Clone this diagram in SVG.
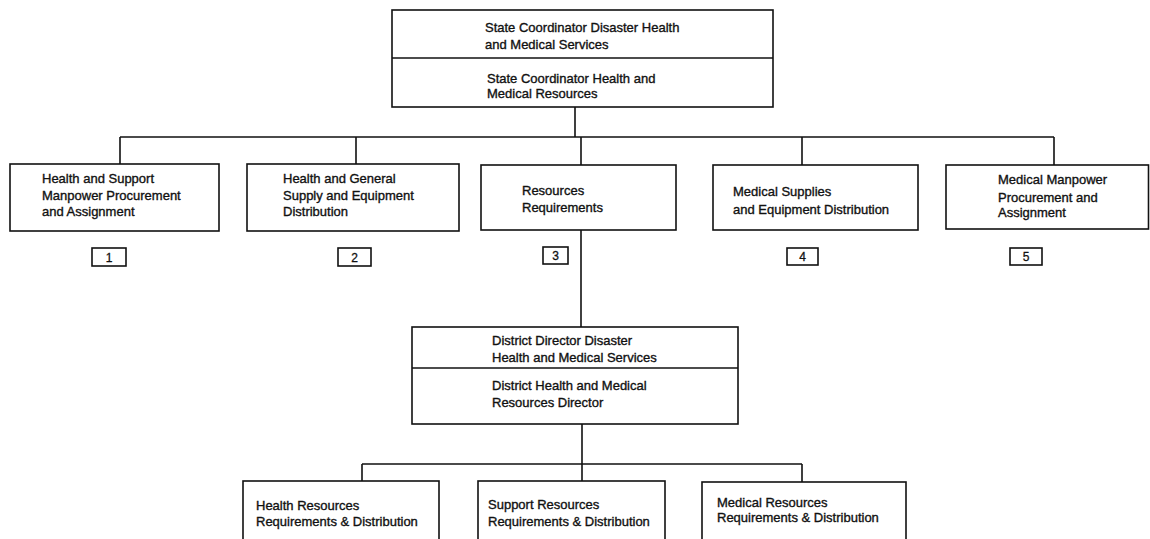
<svg xmlns="http://www.w3.org/2000/svg" width="1150" height="539" viewBox="0 0 1150 539">
<style>
.box{fill:#fff;stroke:#111;stroke-width:1.6}
.ln{fill:none;stroke:#111;stroke-width:1.6}
.t{font-family:"Liberation Sans",Arial,sans-serif;font-size:13px;fill:#111;stroke:#111;stroke-width:0.35}
.n{font-family:"Liberation Sans",Arial,sans-serif;font-size:12px;fill:#111;stroke:#111;stroke-width:0.3;text-anchor:middle}
</style>
<rect width="1150" height="539" fill="#fff"/>
<g id="connectors">
<path class="ln" d="M575 107V137M120 137H1054M120 137V164M356 137V164M581 137V165M802 137V165M1054 137V165"/>
<path class="ln" d="M581 230V327"/>
<path class="ln" d="M582 424V464M362 464H802M362 464V481M582 464V481M802 464V482"/>
</g>
<g id="state">
<rect class="box" x="392" y="10" width="381" height="97"/>
<line class="ln" x1="392" y1="58" x2="773" y2="58"/>
<text class="t" x="485" y="32">State Coordinator Disaster Health</text>
<text class="t" x="485" y="49">and Medical Services</text>
<text class="t" x="487" y="83">State Coordinator Health and</text>
<text class="t" x="487" y="98">Medical Resources</text>
</g>
<g id="n1">
<rect class="box" x="10" y="164" width="209" height="67"/>
<text class="t" x="42" y="183">Health and Support</text>
<text class="t" x="42" y="200">Manpower Procurement</text>
<text class="t" x="42" y="216">and Assignment</text>
<rect class="box" x="92" y="248" width="34" height="18"/>
<text class="n" x="109" y="262">1</text>
</g>
<g id="n2">
<rect class="box" x="247" y="164" width="212" height="67"/>
<text class="t" x="283" y="183">Health and General</text>
<text class="t" x="283" y="200">Supply and Equipment</text>
<text class="t" x="283" y="216">Distribution</text>
<rect class="box" x="338" y="248" width="33" height="18"/>
<text class="n" x="354.5" y="262">2</text>
</g>
<g id="n3">
<rect class="box" x="481" y="165" width="195" height="65"/>
<text class="t" x="522" y="195">Resources</text>
<text class="t" x="522" y="212">Requirements</text>
<rect class="box" x="543" y="247" width="25" height="17"/>
<text class="n" x="555.5" y="260">3</text>
</g>
<g id="n4">
<rect class="box" x="713" y="165" width="205" height="65"/>
<text class="t" x="733" y="196">Medical Supplies</text>
<text class="t" x="733" y="214">and Equipment  Distribution</text>
<rect class="box" x="787" y="248" width="31" height="17"/>
<text class="n" x="802.5" y="261">4</text>
</g>
<g id="n5">
<rect class="box" x="946" y="165" width="202.5" height="64"/>
<text class="t" x="998" y="184">Medical Manpower</text>
<text class="t" x="998" y="202">Procurement and</text>
<text class="t" x="998" y="217">Assignment</text>
<rect class="box" x="1010" y="248" width="32" height="17"/>
<text class="n" x="1026" y="261">5</text>
</g>
<g id="district">
<rect class="box" x="412" y="327" width="326" height="97"/>
<line class="ln" x1="412" y1="368" x2="738" y2="368"/>
<text class="t" x="492" y="345">District Director Disaster</text>
<text class="t" x="492" y="362">Health and Medical Services</text>
<text class="t" x="492" y="390">District Health and Medical</text>
<text class="t" x="492" y="407">Resources Director</text>
</g>
<g id="b1">
<rect class="box" x="243" y="481" width="196" height="70"/>
<text class="t" x="256" y="510">Health Resources</text>
<text class="t" x="256" y="526">Requirements &amp; Distribution</text>
</g>
<g id="b2">
<rect class="box" x="478" y="481" width="187" height="70"/>
<text class="t" x="488" y="509">Support Resources</text>
<text class="t" x="488" y="526">Requirements &amp; Distribution</text>
</g>
<g id="b3">
<rect class="box" x="702" y="482" width="204" height="70"/>
<text class="t" x="717" y="507">Medical Resources</text>
<text class="t" x="717" y="522">Requirements &amp; Distribution</text>
</g>
</svg>
